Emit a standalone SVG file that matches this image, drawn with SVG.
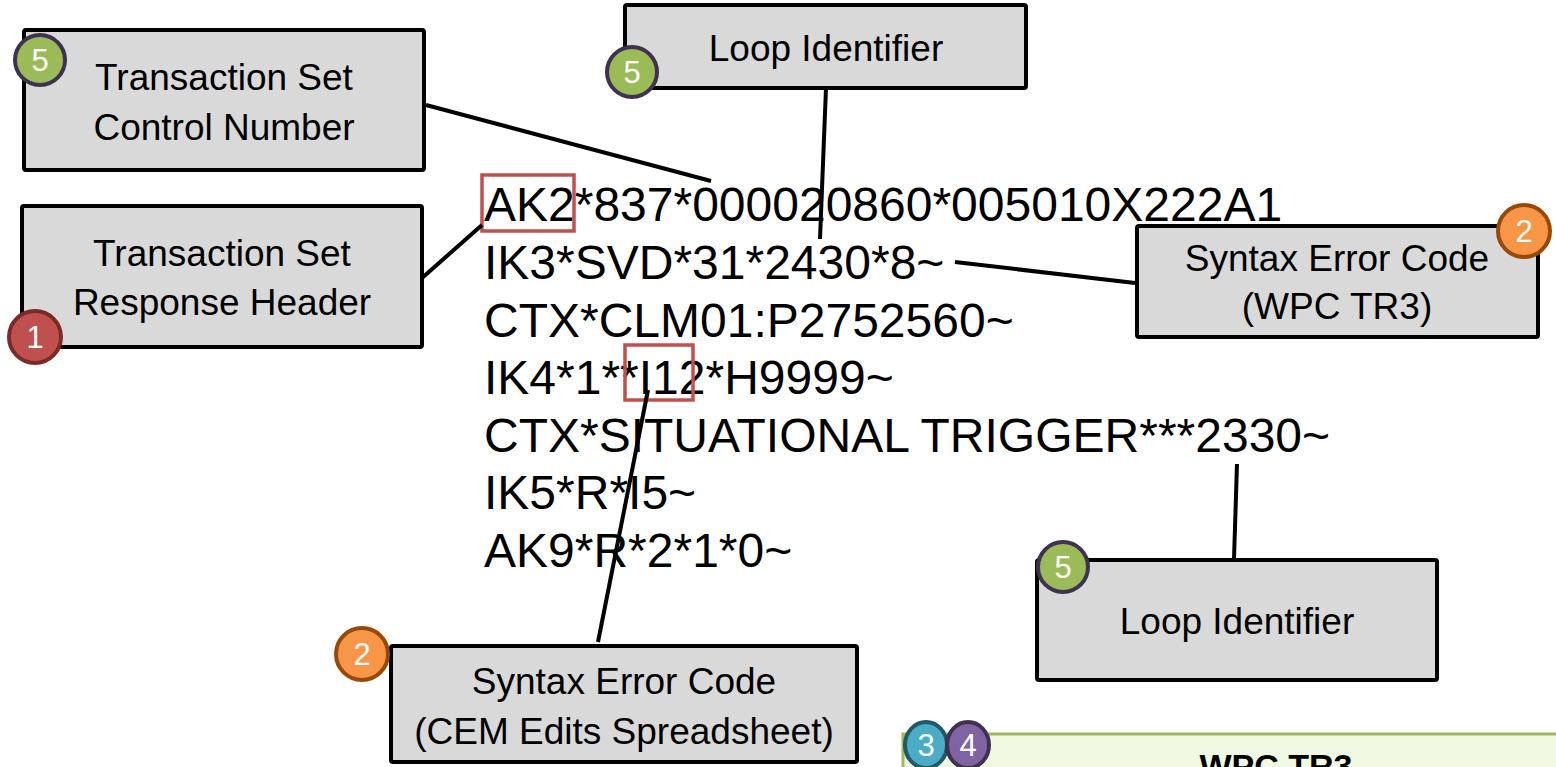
<svg xmlns="http://www.w3.org/2000/svg" width="1556" height="767" viewBox="0 0 1556 767">
<style>
.box{fill:#d9d9d9;stroke:#000;stroke-width:4;stroke-linejoin:round}
.lbl{font-family:"Liberation Sans",Arial,sans-serif;font-size:37px;fill:#000;text-anchor:middle}
.edi{font-family:"Liberation Sans",Arial,sans-serif;font-size:48px;fill:#000}
.con{stroke:#000;stroke-width:4;fill:none}
.hl{fill:none;stroke:#c0504d;stroke-width:3.5}
.bn{font-family:"Liberation Sans",Arial,sans-serif;font-size:31px;fill:#fff;text-anchor:middle}
.b5{fill:#9bbb59;stroke:#3f3151;stroke-width:4}
.b1{fill:#c0504d;stroke:#7a2a28;stroke-width:4}
.b2{fill:#f79646;stroke:#984807;stroke-width:4}
.b3{fill:#4bacc6;stroke:#215968;stroke-width:4}
.b4{fill:#8064a2;stroke:#3f3151;stroke-width:4}
</style>
<rect width="1556" height="767" fill="#fff"/>

<g id="edi-text">
<text class="edi" x="484" y="221">AK2*837*000020860*005010X222A1</text>
<text class="edi" x="484" y="279">IK3*SVD*31*2430*8~</text>
<text class="edi" x="484" y="337">CTX*CLM01:P2752560~</text>
<text class="edi" x="484" y="394">IK4*1**I12*H9999~</text>
<text class="edi" x="484" y="452">CTX*SITUATIONAL TRIGGER***2330~</text>
<text class="edi" x="484" y="509">IK5*R*I5~</text>
<text class="edi" x="484" y="567">AK9*R*2*1*0~</text>
<rect class="hl" x="482" y="175" width="92" height="56"/>
<rect class="hl" x="625" y="345" width="68" height="55"/>
</g>

<g id="connectors">
<line class="con" x1="426" y1="105" x2="711" y2="181"/>
<line class="con" x1="422" y1="278" x2="482" y2="225"/>
<line class="con" x1="826" y1="88" x2="820" y2="239"/>
<line class="con" x1="955" y1="262" x2="1135" y2="283"/>
<line class="con" x1="598" y1="642" x2="648" y2="390"/>
<line class="con" x1="1237" y1="464" x2="1234" y2="559"/>
</g>

<g id="node-control-number">
<rect class="box" x="24" y="30" width="400" height="140" rx="2"/>
<text class="lbl" x="224" y="90">Transaction Set</text>
<text class="lbl" x="224" y="140">Control Number</text>
<circle class="b5" cx="40" cy="60" r="25"/>
<text class="bn" x="40" y="71">5</text>
</g>

<g id="node-response-header">
<rect class="box" x="22" y="206" width="400" height="141" rx="2"/>
<text class="lbl" x="222" y="266">Transaction Set</text>
<text class="lbl" x="222" y="315">Response Header</text>
<circle class="b1" cx="35" cy="337" r="26"/>
<text class="bn" x="35" y="348">1</text>
</g>

<g id="node-loop-top">
<rect class="box" x="625" y="5" width="401" height="83" rx="2"/>
<text class="lbl" x="826" y="61">Loop Identifier</text>
<circle class="b5" cx="632" cy="72" r="25"/>
<text class="bn" x="632" y="83">5</text>
</g>

<g id="node-syntax-wpc">
<rect class="box" x="1137" y="226" width="401" height="111" rx="2"/>
<text class="lbl" x="1337" y="271">Syntax Error Code</text>
<text class="lbl" x="1337" y="319">(WPC TR3)</text>
<circle class="b2" cx="1524" cy="231" r="26"/>
<text class="bn" x="1524" y="242">2</text>
</g>

<g id="node-syntax-cem">
<rect class="box" x="391" y="646" width="466" height="116" rx="2"/>
<text class="lbl" x="624" y="694">Syntax Error Code</text>
<text class="lbl" x="624" y="744">(CEM Edits Spreadsheet)</text>
<circle class="b2" cx="362" cy="654" r="26"/>
<text class="bn" x="362" y="665">2</text>
</g>

<g id="node-loop-bottom">
<rect class="box" x="1037" y="560" width="400" height="120" rx="2"/>
<text class="lbl" x="1237" y="634">Loop Identifier</text>
<circle class="b5" cx="1063" cy="567" r="25"/>
<text class="bn" x="1063" y="578">5</text>
</g>

<g id="node-wpc-tr3">
<rect x="903" y="734" width="660" height="60" fill="#f0fae3" stroke="#9bbb59" stroke-width="3"/>
<text x="1276" y="778" font-family="'Liberation Sans',Arial,sans-serif" font-size="34" font-weight="bold" text-anchor="middle" fill="#000">WPC TR3</text>
<ellipse class="b3" cx="926" cy="745" rx="21" ry="23"/>
<text class="bn" x="926" y="756">3</text>
<ellipse class="b4" cx="968" cy="745" rx="21" ry="23"/>
<text class="bn" x="968" y="756">4</text>
</g>
</svg>
